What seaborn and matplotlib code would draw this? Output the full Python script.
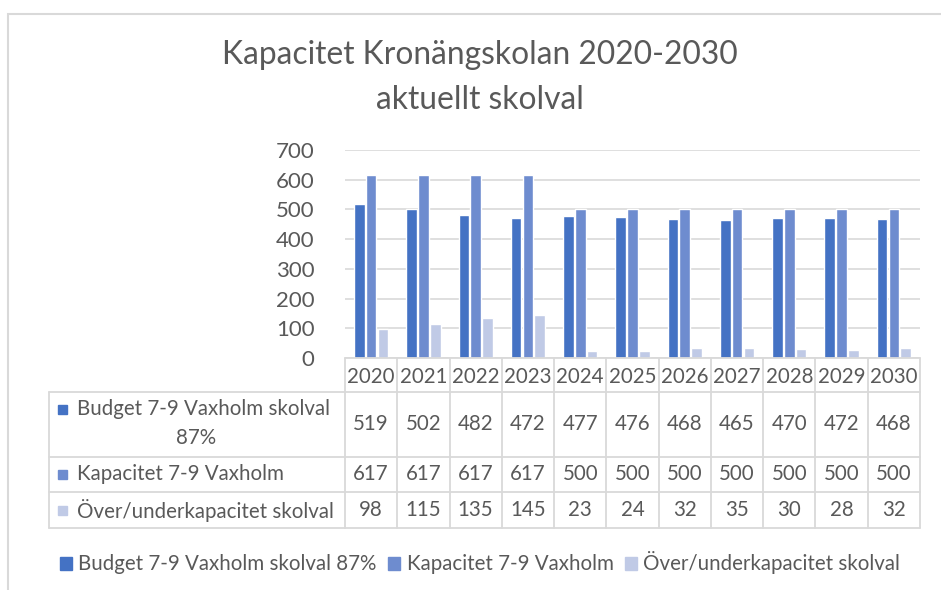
import pandas as pd
import matplotlib.pyplot as plt
import seaborn as sns
from matplotlib.lines import Line2D
from matplotlib.patches import Rectangle
import matplotlib.transforms as mtransforms

years = ["2020", "2021", "2022", "2023", "2024", "2025", "2026", "2027", "2028", "2029", "2030"]
series = ["Budget 7-9 Vaxholm skolval 87%", "Kapacitet 7-9 Vaxholm", "Över/underkapacitet skolval"]
budget = [519, 502, 482, 472, 477, 476, 468, 465, 470, 472, 468]
kapacitet = [617, 617, 617, 617, 500, 500, 500, 500, 500, 500, 500]
over_under = [98, 115, 135, 145, 23, 24, 32, 35, 30, 28, 32]
colors = ["#4472C4", "#6E8CCF", "#C0CAE6"]

df = pd.DataFrame({
    "year": years * 3,
    "serie": [series[0]] * 11 + [series[1]] * 11 + [series[2]] * 11,
    "value": budget + kapacitet + over_under,
})

sns.set_style("white")
plt.rcParams['font.family'] = ['Lato', 'DejaVu Sans']
txt = "#595959"
grid = "#D9D9D9"

W, H = 941, 590
fig = plt.figure(figsize=(W / 100, H / 100), dpi=100)
# ram runt diagrammet
fig.patches.append(Rectangle((8 / W, -0.1), 1.1, (H - 14) / H + 0.1, transform=fig.transFigure,
                             fill=False, edgecolor=grid, linewidth=1.5))

ax = fig.add_axes([345 / W, (H - 358) / H, (920 - 345) / W, (358 - 150) / H])
sns.barplot(data=df, x="year", y="value", hue="serie", palette=colors, saturation=1,
            width=0.68, gap=0.1, ax=ax, legend=False)
ax.set_xlim(-0.5, 10.5)
ax.set_ylim(0, 700)
ax.set_yticks(range(0, 701, 100))
ax.yaxis.grid(True, color=grid, linewidth=1.2)
ax.set_axisbelow(True)
for s in ax.spines.values():
    s.set_visible(False)
ax.set_xticks([])
ax.set_xlabel("")
ax.set_ylabel("")
ax.tick_params(axis="y", length=0, pad=22, labelsize=16, labelcolor=txt)

fig.text(480 / W, 1 - 55 / H, "Kapacitet Kronängskolan 2020-2030", ha="center", va="center",
         fontsize=22.9, color=txt)
fig.text(480 / W, 1 - 100 / H, "aktuellt skolval", ha="center", va="center",
         fontsize=22.9, color=txt)

# datatabell: x i dataenheter, y i pixlar från toppen
tr = mtransforms.blended_transform_factory(ax.transData, fig.transFigure)
def fy(p):
    return 1 - p / H

def hline(x0, x1, yp, transform=tr):
    fig.lines.append(Line2D([x0, x1], [fy(yp), fy(yp)], transform=transform, color=grid, linewidth=1.3))

def vline(x, y0, y1, transform=tr):
    fig.lines.append(Line2D([x, x], [fy(y0), fy(y1)], transform=transform, color=grid, linewidth=1.3))

tf = fig.transFigure
left_px = 49 / W
rows = [392, 457, 492, 528]
hline(-0.5, 10.5, 358)
for yp in rows:
    hline(-0.5, 10.5, yp)
    fig.lines.append(Line2D([left_px, 345 / W], [fy(yp), fy(yp)], transform=tf, color=grid, linewidth=1.3))
for i in range(12):
    vline(i - 0.5, 358, 528)
vline(left_px, 392, 528, transform=tf)

tsize = 14.8
for i, y in enumerate(years):
    fig.text(i, fy(377), y, transform=tr, ha="center", va="center", fontsize=tsize, color=txt)

row_vals = [budget, kapacitet, over_under]
row_mid = [(392 + 457) / 2, (457 + 492) / 2, (492 + 528) / 2]
for r in range(3):
    for i, v in enumerate(row_vals[r]):
        fig.text(i, fy(row_mid[r]), str(v), transform=tr, ha="center", va="center",
                 fontsize=tsize, color=txt)
    ym = fy(409) if r == 0 else fy(row_mid[r])
    fig.patches.append(Rectangle((58 / W, ym - 4.5 / H), 9 / W, 9 / H, transform=tf,
                                 color=colors[r]))

fig.text(77 / W, fy(409), "Budget 7-9 Vaxholm skolval", ha="left", va="center", fontsize=tsize, color=txt)
fig.text(196 / W, fy(438), "87%", ha="center", va="center", fontsize=tsize, color=txt)
fig.text(77 / W, fy(row_mid[1]), series[1], ha="left", va="center", fontsize=tsize, color=txt)
fig.text(77 / W, fy(row_mid[2]), series[2], ha="left", va="center", fontsize=tsize, color=txt)

handles = [Rectangle((0, 0), 1, 1, color=c) for c in colors]
fig.legend(handles, series, loc="center", bbox_to_anchor=(480 / W, fy(563)), ncol=3, frameon=False,
           fontsize=14.8, labelcolor=txt, handlelength=0.6, handleheight=0.6, handletextpad=0.3,
           columnspacing=0.55)

fig.savefig("out.png", dpi=100)
